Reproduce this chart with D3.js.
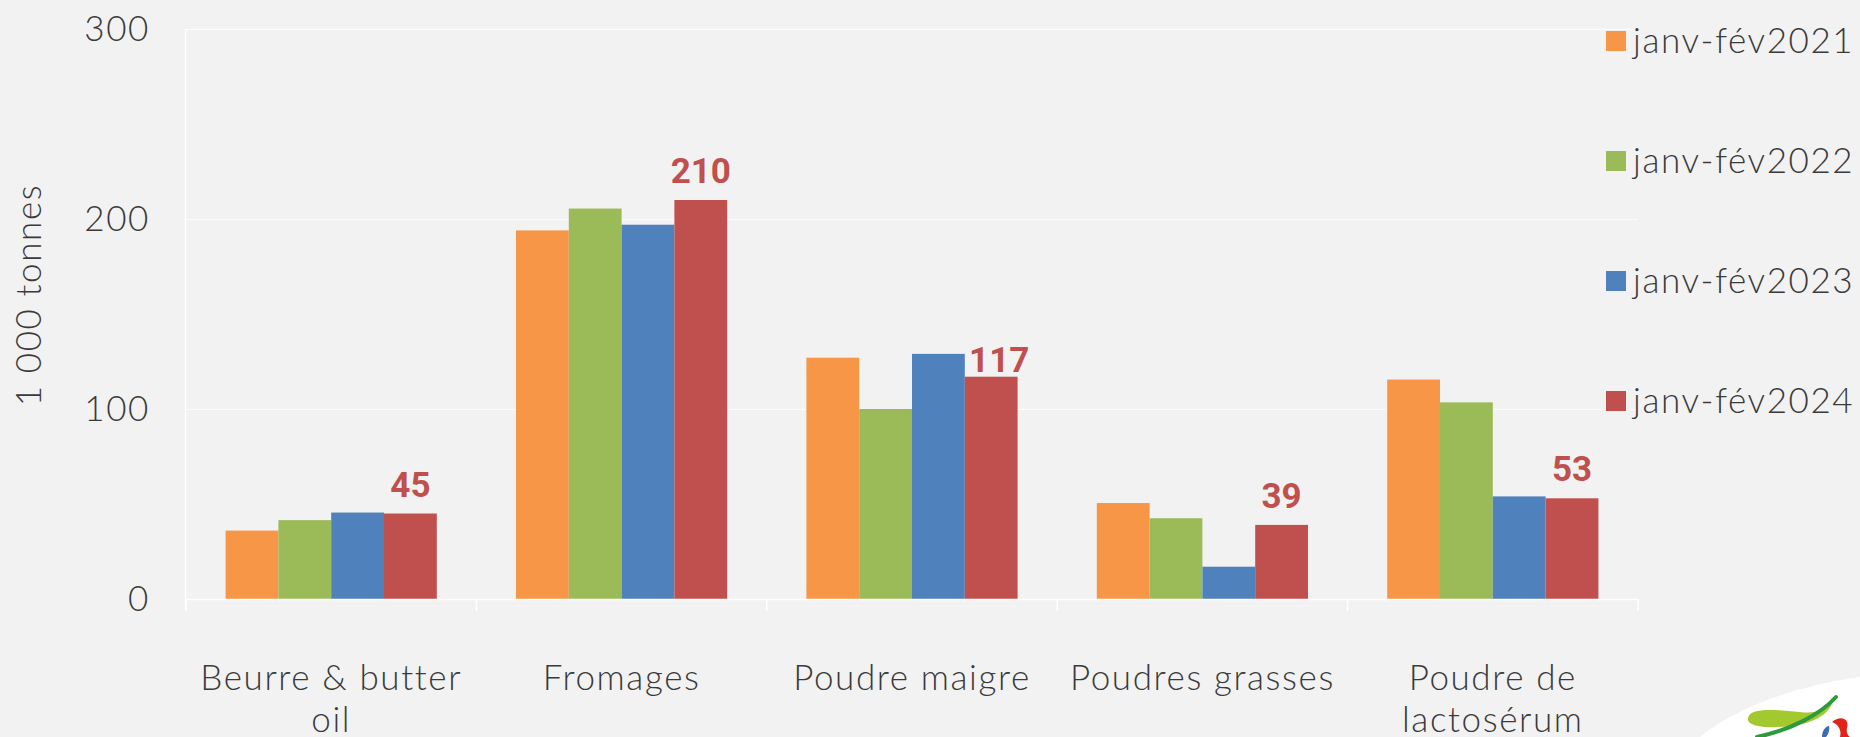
<!DOCTYPE html>
<html>
<head>
<meta charset="utf-8">
<title>Produits laitiers janv-fév</title>
<script src="https://cdn.jsdelivr.net/npm/d3@7"></script>
<style>
  body { margin: 0; background: #f2f2f2; overflow: hidden; }
  svg { display: block; }
  .lbl { font-family: "Lato", "DejaVu Sans", sans-serif; font-weight: 300; fill: #3a3a3a; letter-spacing: 1.6px; }
</style>
</head>
<body>
<script>
// data
var categories = ["Beurre & butter oil", "Fromages", "Poudre maigre", "Poudres grasses", "Poudre de lactosérum"];
var catLines = [["Beurre & butter", "oil"], ["Fromages"], ["Poudre maigre"], ["Poudres grasses"], ["Poudre de", "lactosérum"]];
var seriesNames = ["janv-fév2021", "janv-fév2022", "janv-fév2023", "janv-fév2024"];
var v2021 = [36, 194, 127, 50.5, 115.5];
var v2022 = [41.5, 205.5, 100, 42.5, 103.5];
var v2023 = [45.5, 197, 129, 17, 54];
var v2024 = [45, 210, 117, 39, 53];
var yTicks = [0, 100, 200, 300];
var colors = ["#f79646", "#9bbb59", "#4f81bd", "#c0504d"];

var W = 1860, H = 737;
var allVals = [v2021, v2022, v2023, v2024];

var svg = d3.select("body").append("svg").attr("width", W).attr("height", H);
svg.append("rect").attr("width", W).attr("height", H).attr("fill", "#f2f2f2");

var x0 = d3.scaleBand().domain(categories).range([186, 1638]).padding(0);
var barW = x0.bandwidth() / 5.5;
var x1 = d3.scaleBand().domain(seriesNames).range([0.75 * barW, x0.bandwidth() - 0.75 * barW]).padding(0);
var y = d3.scaleLinear().domain([0, 300]).range([599, 29]);

// gridlines
svg.append("g").selectAll("line").data(yTicks.filter(d => d > 0)).enter().append("line")
  .attr("x1", 186).attr("x2", 1638)
  .attr("y1", d => y(d) + 0.5).attr("y2", d => y(d) + 0.5)
  .attr("stroke", "#ffffff").attr("stroke-width", 1).attr("stroke-dasharray", "3,1");

// y axis
var yAxis = d3.axisLeft(y).tickValues(yTicks).tickSize(0).tickPadding(36);
var gy = svg.append("g").attr("transform", "translate(186,0)").call(yAxis);
gy.select(".domain").remove();
gy.selectAll("text").attr("class", "lbl").attr("font-size", 35).style("font-family", null);
svg.append("line").attr("x1", 185.5).attr("x2", 185.5).attr("y1", 29).attr("y2", 611)
  .attr("stroke", "#fff").attr("stroke-width", 1.5);

// bars
var groups = svg.append("g").selectAll("g").data(categories).enter().append("g")
  .attr("transform", d => "translate(" + x0(d) + ",0)");
groups.selectAll("rect").data((c, i) => seriesNames.map((s, j) => ({s: s, v: allVals[j][i], j: j})))
  .enter().append("rect")
  .attr("x", d => x1(d.s))
  .attr("y", d => y(d.v))
  .attr("width", x1.bandwidth())
  .attr("height", d => y(0) - y(d.v))
  .attr("fill", d => colors[d.j]);

// data labels on 2024
groups.append("text")
  .attr("x", (c, i) => x1(seriesNames[3]) + x1.bandwidth() / 2 + (i === 2 ? 8 : 0))
  .attr("y", (c, i) => y(v2024[i]) - (i === 2 ? 5 : 17))
  .attr("text-anchor", "middle")
  .attr("font-family", "Roboto, 'Liberation Sans', sans-serif")
  .attr("font-weight", 700).attr("font-size", 35)
  .attr("fill", "#c0504d")
  .text((c, i) => v2024[i]);

// x axis
var xAxis = d3.axisBottom(x0).tickSize(0).tickFormat("");
var gx = svg.append("g").attr("transform", "translate(0,599)").call(xAxis);
gx.select(".domain").remove();
svg.append("line").attr("x1", 186).attr("x2", 1638).attr("y1", 599.5).attr("y2", 599.5)
  .attr("stroke", "#fff").attr("stroke-width", 1.5);
var bounds = categories.map(c => x0(c)).concat([x0.range()[1]]);
svg.append("g").selectAll("line").data(bounds).enter().append("line")
  .attr("x1", d => d).attr("x2", d => d).attr("y1", 599).attr("y2", 611)
  .attr("stroke", "#fff").attr("stroke-width", 1.5);

svg.append("g").selectAll("text").data(categories).enter().append("text")
  .attr("class", "lbl").attr("font-size", 35).attr("text-anchor", "middle")
  .attr("x", d => x0(d) + x0.bandwidth() / 2)
  .attr("y", 690)
  .each(function(c, i) {
    var t = d3.select(this);
    catLines[i].forEach(function(line, k) {
      t.append("tspan").attr("x", x0(c) + x0.bandwidth() / 2).attr("dy", k === 0 ? 0 : 42).text(line);
    });
  });

// y title
svg.append("text").attr("class", "lbl").attr("font-size", 35).attr("text-anchor", "middle")
  .attr("transform", "translate(41,295) rotate(-90)")
  .text("1 000 tonnes");

// legend
var leg = svg.append("g").selectAll("g").data(seriesNames).enter().append("g")
  .attr("transform", (d, i) => "translate(1606," + (41 + i * 120) + ")");
leg.append("rect").attr("x", 0).attr("y", -10).attr("width", 20).attr("height", 20)
  .attr("fill", (d, i) => colors[i]);
leg.append("text").attr("class", "lbl").attr("font-size", 35)
  .attr("x", 27).attr("y", 12).text(d => d);

// logo fragment bottom-right
var logo = svg.append("g");
logo.append("path").attr("d", "M1700,737 C1735,708 1795,686 1860,677 L1860,737 Z")
  .attr("fill", "#ffffff");
logo.append("path").attr("d", "M1748,718 C1750,708 1770,709 1800,712 C1815,714 1826,710 1832,703 C1828,716 1810,724 1790,726 C1765,729 1746,726 1748,718 Z")
  .attr("fill", "#a3c930");
logo.append("path").attr("d", "M1757,737 C1790,730 1820,715 1836,697")
  .attr("fill", "none").attr("stroke", "#2e9a3c").attr("stroke-width", 4).attr("stroke-linecap", "round");
logo.append("path").attr("d", "M1832,722 C1840,715 1850,718 1847,728 C1846,732 1848,736 1850,737 L1840,737 C1842,730 1838,724 1832,722 Z")
  .attr("fill", "#e2231a");
logo.append("path").attr("d", "M1822,737 C1822,730 1826,726 1829,726 C1830,730 1828,735 1826,737 Z")
  .attr("fill", "#3a6fb5");
</script>
</body>
</html>
